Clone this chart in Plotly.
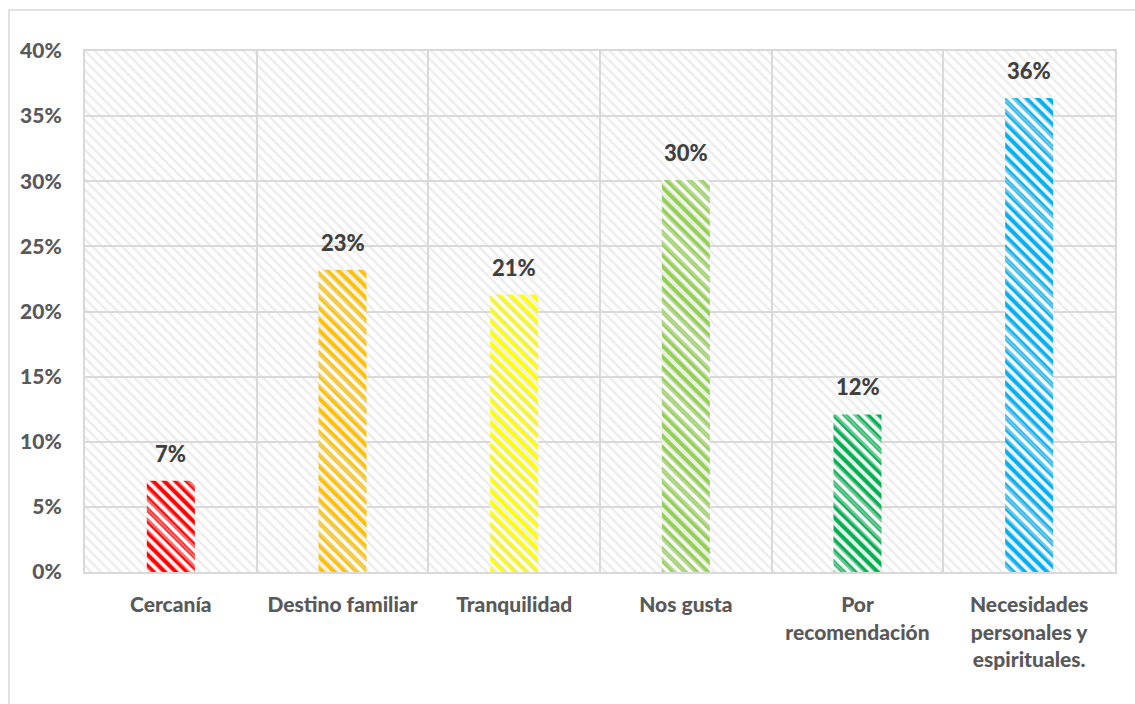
import plotly.graph_objects as go

# Reasons for choosing the destination (share of respondents)
categories = [
    "Cercanía",
    "Destino familiar",
    "Tranquilidad",
    "Nos gusta",
    "Por<br>recomendación",
    "Necesidades<br>personales y<br>espirituales.",
]
shares = [0.070, 0.232, 0.213, 0.301, 0.121, 0.364]
bar_colors = ["#FF0000", "#FFC000", "#FFFF00", "#92D050", "#00B050", "#00B0F0"]

y_ticks = [0, 0.05, 0.10, 0.15, 0.20, 0.25, 0.30, 0.35, 0.40]
y_range = [0, 0.40]
x_pos = list(range(len(categories)))
x_range = [-0.5, len(categories) - 0.5]

FONT = "Lato, Carlito, Calibri, Arial, sans-serif"
GRID = "#d9d9d9"
WEIGHT = 900

fig = go.Figure()

# light diagonal hatch filling the plot area
fig.add_trace(go.Scatter(
    x=[x_range[0], x_range[1], x_range[1], x_range[0], x_range[0]],
    y=[y_range[0], y_range[0], y_range[1], y_range[1], y_range[0]],
    mode="lines",
    line=dict(width=0, color="rgba(0,0,0,0)"),
    fill="toself",
    fillcolor="rgba(0,0,0,0)",
    fillpattern=dict(shape="\\", fgcolor="#dadada", bgcolor="rgba(0,0,0,0)",
                     size=7, solidity=0.35),
    hoverinfo="skip",
    showlegend=False,
))

# one hatched bar per category
for xi, v, col in zip(x_pos, shares, bar_colors):
    fig.add_trace(go.Bar(
        x=[xi],
        y=[v],
        width=0.28,
        marker=dict(
            color=col,
            line=dict(width=0),
            pattern=dict(shape="\\", fillmode="replace", fgcolor=col,
                         bgcolor="white", size=8, solidity=0.55),
        ),
        hoverinfo="skip",
        showlegend=False,
    ))

# value labels above each bar
for xi, v in zip(x_pos, shares):
    fig.add_annotation(
        x=xi, y=v, text=f"{v:.0%}", showarrow=False,
        yanchor="bottom", yshift=12,
        font=dict(family=FONT, size=22, color="#404040", weight=WEIGHT),
    )

# frame around the whole chart
fig.add_shape(
    type="rect", xref="paper", yref="paper",
    x0=-0.0738, x1=1.03, y0=-0.26, y1=1.0787,
    line=dict(color=GRID, width=1.5), fillcolor="rgba(0,0,0,0)", layer="below",
)

fig.update_layout(
    width=1135, height=704,
    margin=dict(l=85, r=20, t=51, b=132),
    paper_bgcolor="white",
    plot_bgcolor="white",
    font=dict(family=FONT, color="#595959"),
    barmode="overlay",
    xaxis=dict(
        range=x_range,
        tickvals=x_pos,
        ticktext=categories,
        tickfont=dict(family=FONT, size=21, color="#595959", weight=WEIGHT),
        showgrid=False,
        zeroline=False,
        showline=True, linecolor=GRID, linewidth=2, mirror=True,
        ticks="", ticklabelstandoff=13,
        minor=dict(tickvals=[p + 0.5 for p in x_pos[:-1]], showgrid=True,
                   gridcolor=GRID, gridwidth=2, ticks=""),
        fixedrange=True,
    ),
    yaxis=dict(
        range=y_range,
        tickvals=y_ticks,
        ticktext=[f"{t:.0%}" for t in y_ticks],
        tickfont=dict(family=FONT, size=21, color="#595959", weight=WEIGHT),
        showgrid=True, gridcolor=GRID, gridwidth=2,
        zeroline=False,
        showline=True, linecolor=GRID, linewidth=2, mirror=True,
        ticks="", ticklabelstandoff=17,
        fixedrange=True,
    ),
)

fig.write_html("out.html")
